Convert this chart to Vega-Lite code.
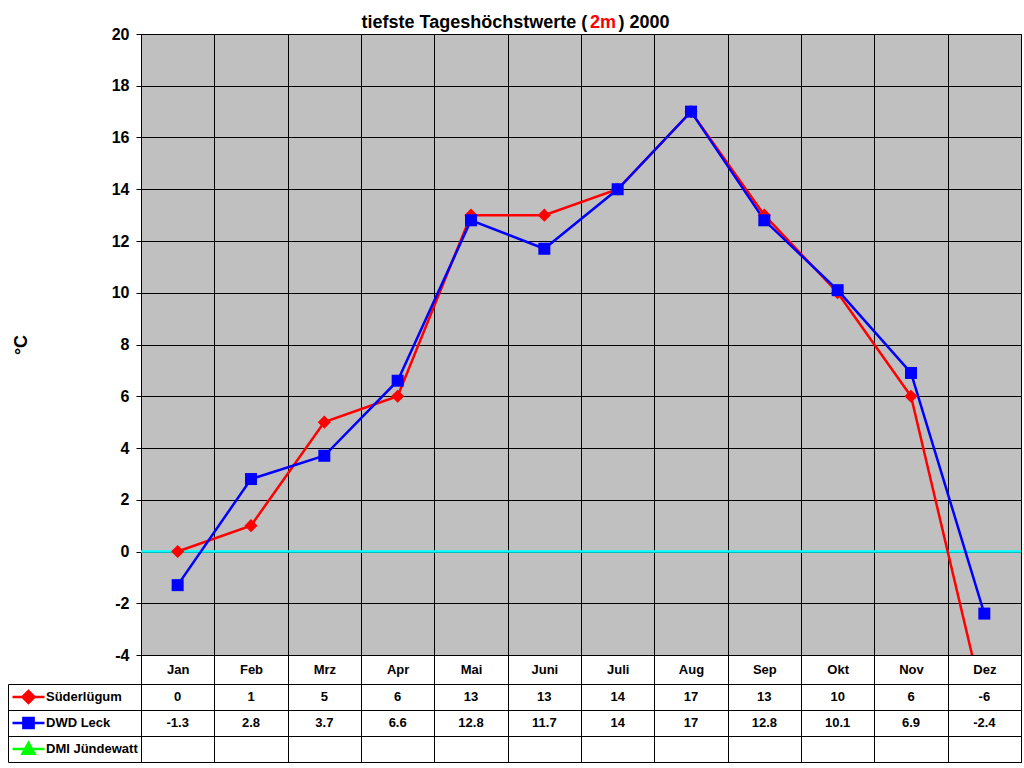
{
  "$schema": "https://vega.github.io/schema/vega-lite/v6.json",
  "padding": {"left": 7, "top": 12, "right": 4, "bottom": 4},
  "autosize": {"type": "pad"},
  "background": "white",
  "config": {
    "font": "Liberation Sans",
    "view": {"stroke": null},
    "axis": {"labelFont": "Liberation Sans", "titleFont": "Liberation Sans"},
    "legend": {
      "orient": "none", "legendX": -130, "legendY": 650,
      "title": null, "padding": 0, "offset": 0, "direction": "vertical",
      "symbolSize": 1024, "clipHeight": 26, "rowPadding": 0,
      "labelFont": "Liberation Sans", "labelFontSize": 13, "labelFontWeight": "bold", "labelColor": "black", "labelOffset": 0, "labelLimit": 200
    }
  },
  "datasets": {
    "temps": [
      {"month": "Jan", "series": "Süderlügum", "value": 0},
      {"month": "Feb", "series": "Süderlügum", "value": 1},
      {"month": "Mrz", "series": "Süderlügum", "value": 5},
      {"month": "Apr", "series": "Süderlügum", "value": 6},
      {"month": "Mai", "series": "Süderlügum", "value": 13},
      {"month": "Juni", "series": "Süderlügum", "value": 13},
      {"month": "Juli", "series": "Süderlügum", "value": 14},
      {"month": "Aug", "series": "Süderlügum", "value": 17},
      {"month": "Sep", "series": "Süderlügum", "value": 13},
      {"month": "Okt", "series": "Süderlügum", "value": 10},
      {"month": "Nov", "series": "Süderlügum", "value": 6},
      {"month": "Dez", "series": "Süderlügum", "value": -6},
      {"month": "Jan", "series": "DWD Leck", "value": -1.3},
      {"month": "Feb", "series": "DWD Leck", "value": 2.8},
      {"month": "Mrz", "series": "DWD Leck", "value": 3.7},
      {"month": "Apr", "series": "DWD Leck", "value": 6.6},
      {"month": "Mai", "series": "DWD Leck", "value": 12.8},
      {"month": "Juni", "series": "DWD Leck", "value": 11.7},
      {"month": "Juli", "series": "DWD Leck", "value": 14},
      {"month": "Aug", "series": "DWD Leck", "value": 17},
      {"month": "Sep", "series": "DWD Leck", "value": 12.8},
      {"month": "Okt", "series": "DWD Leck", "value": 10.1},
      {"month": "Nov", "series": "DWD Leck", "value": 6.9},
      {"month": "Dez", "series": "DWD Leck", "value": -2.4}
    ],
    "zero": [{"value": 0}]
  },
  "spacing": 29,
  "bounds": "flush",
  "vconcat": [
    {
      "width": 880,
      "height": 621,
      "view": {"fill": "#C0C0C0", "stroke": "black", "strokeWidth": 1},
      "layer": [
        {
          "data": {"name": "zero"},
          "mark": {"type": "rule", "color": "#00FFFF", "strokeWidth": 2.5},
          "encoding": {
            "y": {
              "field": "value", "type": "quantitative",
              "scale": {"domain": [-4, 20], "nice": false, "zero": false},
              "axis": {
                "title": "°C", "titleFontSize": 18, "titleFontWeight": "bold", "titleColor": "black", "titlePadding": 81,
                "values": [-4, -2, 0, 2, 4, 6, 8, 10, 12, 14, 16, 18, 20],
                "labelExpr": "'' + datum.value",
                "labelFontSize": 16, "labelFontWeight": "bold", "labelColor": "black", "labelPadding": 7,
                "tickSize": 5, "tickColor": "black", "tickWidth": 1,
                "domain": true, "domainColor": "black",
                "grid": true, "gridColor": "black", "gridOpacity": 1, "gridWidth": 1
              }
            }
          }
        },
        {
          "data": {"name": "temps"},
          "mark": {"type": "line", "strokeWidth": 2.5, "clip": true},
          "encoding": {
            "x": {
              "field": "month", "type": "ordinal", "sort": null,
              "scale": {"type": "band", "domain": ["Jan", "Feb", "Mrz", "Apr", "Mai", "Juni", "Juli", "Aug", "Sep", "Okt", "Nov", "Dez"], "paddingInner": 0, "paddingOuter": 0},
              "axis": {
                "orient": "bottom",
                "title": "tiefste Tageshöchstwerte (",
                "titleFontSize": 18, "titleFontWeight": "bold", "titleColor": "black",
                "titleX": 220, "titleY": -628, "titleAlign": "left", "titleBaseline": "alphabetic", "titleAngle": 0,
                "labels": true, "labelAngle": 0, "labelFontSize": 13, "labelFontWeight": "bold", "labelColor": "black", "labelPadding": -21, "labelBaseline": "top",
                "ticks": true, "tickSize": 29, "tickColor": "black", "tickWidth": 1, "tickBand": "extent",
                "domain": false,
                "grid": true, "gridColor": "black", "gridOpacity": 1, "gridWidth": 1
              }
            },
            "y": {"field": "value", "type": "quantitative"},
            "color": {
              "field": "series", "type": "nominal",
              "scale": {"domain": ["Süderlügum", "DWD Leck", "DMI Jündewatt"], "range": ["#FF0000", "#0000FF", "#00FF00"]},
              "legend": {
                "values": ["Süderlügum", "DWD Leck", "DMI Jündewatt"],
                "encode": {
                  "symbols": {
                    "update": {
                      "shape": {"signal": "datum.value == 'Süderlügum' ? 'M-1,0H1M-0.38,0L0,-0.38L0.38,0L0,0.38Z' : datum.value == 'DWD Leck' ? 'M-1,0H1M-0.32,-0.32H0.32V0.32H-0.32Z' : 'M-1,0H1M0,-0.38L0.38,0.3H-0.38Z'"},
                      "fill": {"scale": "color", "field": "value"},
                      "stroke": {"scale": "color", "field": "value"},
                      "strokeWidth": {"value": 2.5},
                      "opacity": {"value": 1},
                      "size": {"value": 1024}
                    }
                  }
                }
              }
            }
          }
        },
        {
          "data": {"name": "temps"},
          "transform": [{"filter": "datum.series == 'Süderlügum'"}],
          "mark": {"type": "point", "filled": true, "opacity": 1, "size": 144, "shape": "M-1.1,0L0,-1.1L1.1,0L0,1.1Z", "clip": true},
          "encoding": {
            "x": {"field": "month", "type": "ordinal", "sort": null},
            "y": {"field": "value", "type": "quantitative"},
            "color": {
              "field": "series", "type": "nominal",
              "legend": {
                "values": ["Süderlügum", "DWD Leck", "DMI Jündewatt"],
                "encode": {
                  "symbols": {
                    "update": {
                      "shape": {"signal": "datum.value == 'Süderlügum' ? 'M-1,0H1M-0.38,0L0,-0.38L0.38,0L0,0.38Z' : datum.value == 'DWD Leck' ? 'M-1,0H1M-0.32,-0.32H0.32V0.32H-0.32Z' : 'M-1,0H1M0,-0.38L0.38,0.3H-0.38Z'"},
                      "fill": {"scale": "color", "field": "value"},
                      "stroke": {"scale": "color", "field": "value"},
                      "strokeWidth": {"value": 2.5},
                      "opacity": {"value": 1},
                      "size": {"value": 1024}
                    }
                  }
                }
              }
            }
          }
        },
        {
          "data": {"name": "temps"},
          "transform": [{"filter": "datum.series == 'DWD Leck'"}],
          "mark": {"type": "point", "filled": true, "opacity": 1, "size": 144, "shape": "square", "clip": true},
          "encoding": {
            "x": {"field": "month", "type": "ordinal", "sort": null},
            "y": {"field": "value", "type": "quantitative"},
            "color": {
              "field": "series", "type": "nominal",
              "legend": {
                "values": ["Süderlügum", "DWD Leck", "DMI Jündewatt"],
                "encode": {
                  "symbols": {
                    "update": {
                      "shape": {"signal": "datum.value == 'Süderlügum' ? 'M-1,0H1M-0.38,0L0,-0.38L0.38,0L0,0.38Z' : datum.value == 'DWD Leck' ? 'M-1,0H1M-0.32,-0.32H0.32V0.32H-0.32Z' : 'M-1,0H1M0,-0.38L0.38,0.3H-0.38Z'"},
                      "fill": {"scale": "color", "field": "value"},
                      "stroke": {"scale": "color", "field": "value"},
                      "strokeWidth": {"value": 2.5},
                      "opacity": {"value": 1},
                      "size": {"value": 1024}
                    }
                  }
                }
              }
            }
          }
        }
      ]
    },
    {
      "width": 880,
      "height": 78,
      "view": {"fill": "white", "stroke": "black", "strokeWidth": 1},
      "data": {"name": "temps"},
      "mark": {"type": "text", "font": "Liberation Sans", "fontSize": 13, "fontWeight": "bold", "color": "black"},
      "encoding": {
        "x": {
          "field": "month", "type": "ordinal", "sort": null,
          "scale": {"type": "band", "domain": ["Jan", "Feb", "Mrz", "Apr", "Mai", "Juni", "Juli", "Aug", "Sep", "Okt", "Nov", "Dez"], "paddingInner": 0, "paddingOuter": 0},
          "axis": {
            "orient": "top",
            "title": "2m", "titleFontSize": 18, "titleFontWeight": "bold", "titleColor": "#FF0000",
            "titleX": 448.5, "titleY": -657, "titleAlign": "left", "titleBaseline": "alphabetic", "titleAngle": 0,
            "labels": false, "ticks": false, "domain": false, "grid": true, "gridColor": "black", "gridOpacity": 1, "gridWidth": 1, "tickBand": "extent"
          }
        },
        "y": {
          "field": "series", "type": "nominal",
          "scale": {"type": "band", "domain": ["Süderlügum", "DWD Leck", "DMI Jündewatt"], "paddingInner": 0, "paddingOuter": 0},
          "axis": {
            "orient": "left", "offset": 133, "labels": false,
            "title": ") 2000", "titleFontSize": 18, "titleFontWeight": "bold", "titleColor": "black",
            "titleX": 610, "titleY": -657, "titleAlign": "left", "titleBaseline": "alphabetic", "titleAngle": 0,
            "domain": true, "domainColor": "black", "domainWidth": 1,
            "ticks": true, "tickSize": -133, "tickWidth": 1, "tickColor": "black", "tickBand": "extent",
            "grid": true, "gridColor": "black", "gridOpacity": 1, "gridWidth": 1
          }
        },
        "text": {"field": "value", "type": "nominal"}
      }
    }
  ]
}
